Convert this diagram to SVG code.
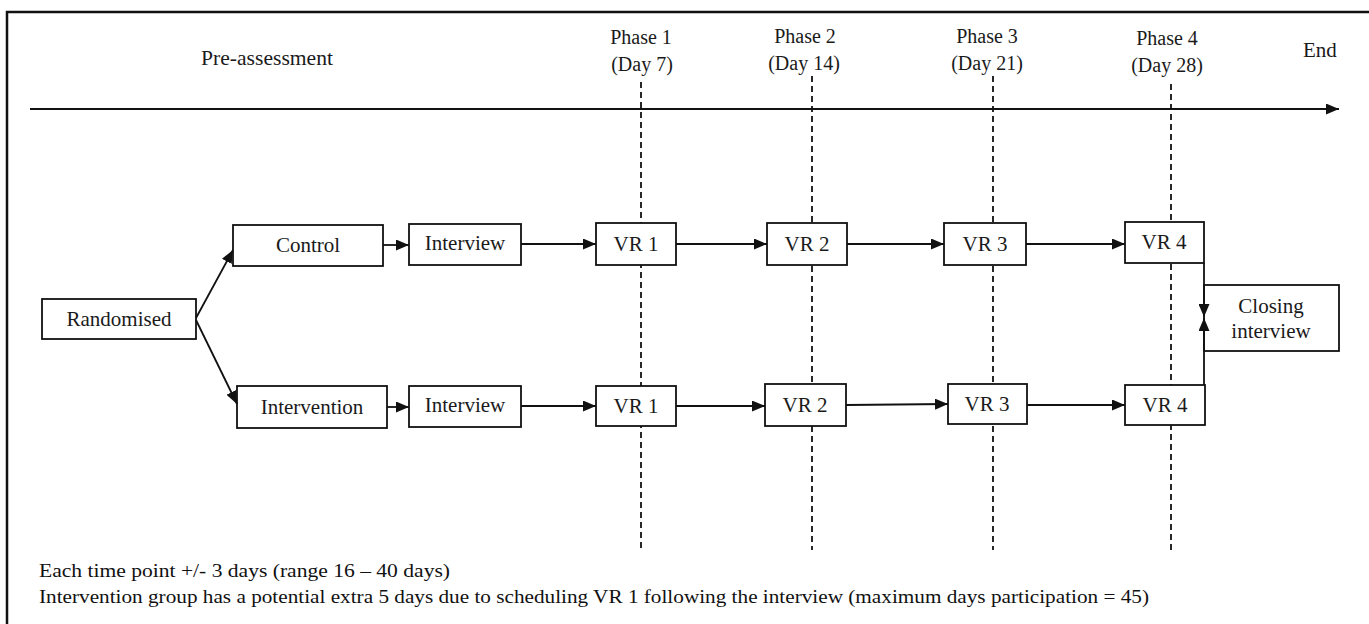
<svg xmlns="http://www.w3.org/2000/svg" width="1369" height="624" viewBox="0 0 1369 624">
<defs>
<style>
.box{fill:#fff;stroke:#111;stroke-width:1.8}
.t{font-family:"Liberation Serif","Times New Roman",serif;font-size:21px;fill:#1a1a1a;text-anchor:middle}
.ph{font-family:"Liberation Serif","Times New Roman",serif;font-size:20px;fill:#1a1a1a;text-anchor:middle}
.lbl{font-family:"Liberation Serif","Times New Roman",serif;font-size:21px;fill:#1a1a1a}
.foot{font-family:"Liberation Serif","Times New Roman",serif;font-size:18px;fill:#111}
.con{stroke:#111;stroke-width:1.8;fill:none}
.dash{stroke:#111;stroke-width:1.8;stroke-dasharray:6 4;fill:none}
</style>
<marker id="ah" markerUnits="userSpaceOnUse" markerWidth="13" markerHeight="11" refX="13" refY="5.5" orient="auto">
<path d="M0,0 L13,5.5 L0,11 z" fill="#111"/>
</marker>
</defs>
<rect width="1369" height="624" fill="#fff"/>
<g id="frame">
<path d="M7,624 L7,12 L1369,12" fill="none" stroke="#111" stroke-width="2.5"/>
</g>
<g id="timeline">
<line class="con" x1="30" y1="109" x2="1339" y2="109" marker-end="url(#ah)"/>
<text class="lbl" x="201" y="65" textLength="132" lengthAdjust="spacingAndGlyphs">Pre-assessment</text>
<text class="ph" x="641" y="44">Phase 1</text>
<text class="ph" x="642" y="71">(Day 7)</text>
<text class="ph" x="805" y="43">Phase 2</text>
<text class="ph" x="804" y="70">(Day 14)</text>
<text class="ph" x="987" y="43">Phase 3</text>
<text class="ph" x="987" y="70">(Day 21)</text>
<text class="ph" x="1167" y="45">Phase 4</text>
<text class="ph" x="1167" y="72">(Day 28)</text>
<text class="lbl" x="1303" y="57">End</text>
</g>
<g id="phase-lines">
<line class="dash" x1="641" y1="82" x2="641" y2="550"/>
<line class="dash" x1="812" y1="76" x2="812" y2="550"/>
<line class="dash" x1="993" y1="76" x2="993" y2="550"/>
<line class="dash" x1="1171" y1="84" x2="1171" y2="550"/>
</g>
<g id="randomised"><rect class="box" x="42" y="299" width="154" height="40"/><text class="t" x="119" y="326">Randomised</text></g>
<g id="control"><rect class="box" x="233" y="225" width="150" height="41"/><text class="t" x="308" y="252">Control</text></g>
<g id="intervention"><rect class="box" x="237" y="386" width="150" height="42"/><text class="t" x="312" y="414">Intervention</text></g>
<g id="interview-control"><rect class="box" x="409" y="224" width="112" height="41"/><text class="t" x="465" y="250">Interview</text></g>
<g id="interview-intervention"><rect class="box" x="409" y="386" width="112" height="41"/><text class="t" x="465" y="412">Interview</text></g>
<g id="vr1-control"><rect class="box" x="596" y="223" width="80" height="42"/><text class="t" x="636" y="251">VR 1</text></g>
<g id="vr2-control"><rect class="box" x="767" y="223" width="80" height="42"/><text class="t" x="807" y="251">VR 2</text></g>
<g id="vr3-control"><rect class="box" x="944" y="223" width="82" height="42"/><text class="t" x="985" y="251">VR 3</text></g>
<g id="vr4-control"><rect class="box" x="1125" y="222" width="79" height="41"/><text class="t" x="1164" y="249">VR 4</text></g>
<g id="vr1-intervention"><rect class="box" x="596" y="386" width="80" height="40"/><text class="t" x="636" y="413">VR 1</text></g>
<g id="vr2-intervention"><rect class="box" x="765" y="384" width="81" height="42"/><text class="t" x="805" y="412">VR 2</text></g>
<g id="vr3-intervention"><rect class="box" x="948" y="384" width="79" height="40"/><text class="t" x="987" y="411">VR 3</text></g>
<g id="vr4-intervention"><rect class="box" x="1125" y="385" width="80" height="40"/><text class="t" x="1165" y="412">VR 4</text></g>
<g id="closing-interview"><rect class="box" x="1204" y="285" width="135" height="66"/><text class="t" x="1271" y="313">Closing</text><text class="t" x="1271" y="338">interview</text></g>
<g id="connectors">
<line class="con" x1="196" y1="318" x2="233" y2="250" marker-end="url(#ah)"/>
<line class="con" x1="196" y1="320" x2="237" y2="404" marker-end="url(#ah)"/>
<line class="con" x1="383" y1="245" x2="409" y2="245" marker-end="url(#ah)"/>
<line class="con" x1="387" y1="407" x2="409" y2="407" marker-end="url(#ah)"/>
<line class="con" x1="521" y1="244" x2="596" y2="244" marker-end="url(#ah)"/>
<line class="con" x1="676" y1="244" x2="767" y2="244" marker-end="url(#ah)"/>
<line class="con" x1="847" y1="244" x2="944" y2="244" marker-end="url(#ah)"/>
<line class="con" x1="1026" y1="244" x2="1125" y2="244" marker-end="url(#ah)"/>
<line class="con" x1="521" y1="406" x2="596" y2="406" marker-end="url(#ah)"/>
<line class="con" x1="676" y1="406" x2="765" y2="406" marker-end="url(#ah)"/>
<line class="con" x1="846" y1="405" x2="948" y2="404" marker-end="url(#ah)"/>
<line class="con" x1="1027" y1="405" x2="1125" y2="405" marker-end="url(#ah)"/>
<line class="con" x1="1204" y1="263" x2="1204" y2="317" marker-end="url(#ah)"/>
<line class="con" x1="1204" y1="385" x2="1204" y2="318" marker-end="url(#ah)"/>
</g>
<g id="notes">
<text class="foot" x="39" y="577" textLength="411" lengthAdjust="spacingAndGlyphs">Each time point +/- 3 days (range 16 – 40 days)</text>
<text class="foot" x="39" y="603" textLength="1110" lengthAdjust="spacingAndGlyphs">Intervention group has a potential extra 5 days due to scheduling VR 1 following the interview (maximum days participation = 45)</text>
</g>
</svg>
